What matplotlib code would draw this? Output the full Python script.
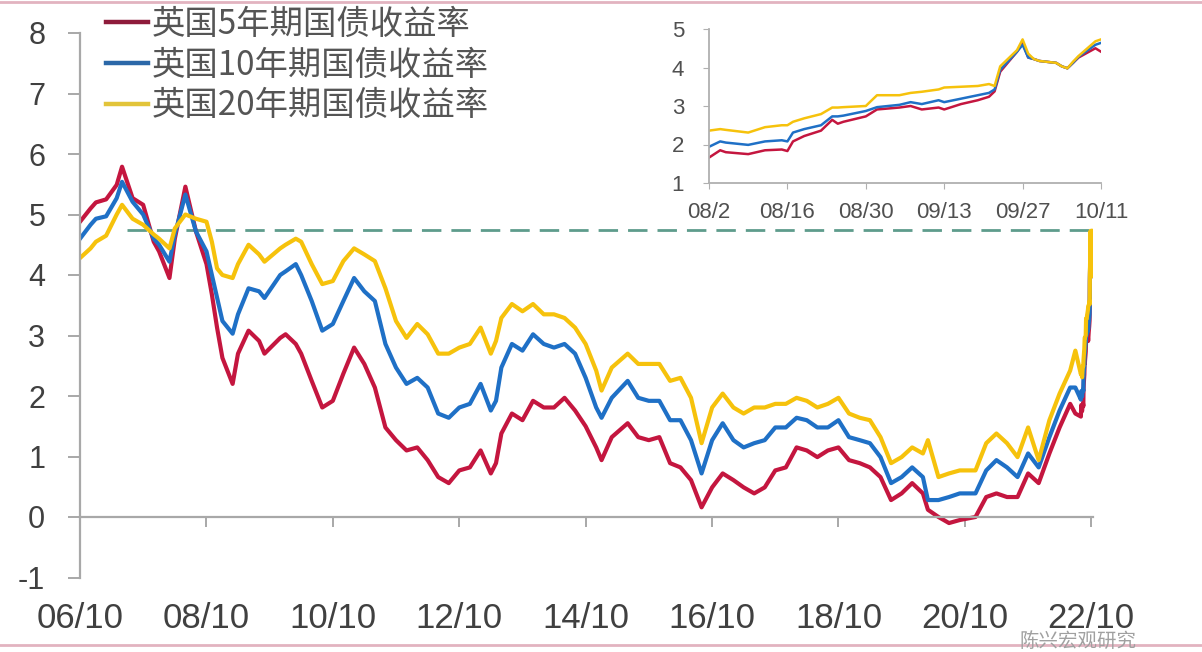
import matplotlib
matplotlib.use("Agg")
import matplotlib.pyplot as plt
import pandas as pd
from matplotlib.lines import Line2D

# readings (start of month), Oct 2006 - Jul 2022
months = [
    "2006-10", "2006-12", "2007-01", "2007-03", "2007-05", "2007-06", "2007-08", "2007-10", "2007-12",
    "2008-01", "2008-03", "2008-04", "2008-06", "2008-08", "2008-10", "2008-11", "2008-12",
    "2009-01", "2009-03", "2009-04", "2009-06", "2009-08", "2009-09", "2009-12",
    "2010-01", "2010-03", "2010-04", "2010-06", "2010-08", "2010-10", "2010-12",
    "2011-02", "2011-04", "2011-06", "2011-08", "2011-10", "2011-12",
    "2012-02", "2012-04", "2012-06", "2012-08", "2012-10", "2012-12",
    "2013-02", "2013-04", "2013-05", "2013-06", "2013-08", "2013-10", "2013-12",
    "2014-02", "2014-04", "2014-06", "2014-08", "2014-10", "2014-12",
    "2015-01", "2015-03", "2015-06", "2015-08", "2015-10", "2015-12",
    "2016-02", "2016-04", "2016-06", "2016-08", "2016-10", "2016-12",
    "2017-02", "2017-04", "2017-06", "2017-08", "2017-10", "2017-12",
    "2018-02", "2018-04", "2018-06", "2018-08", "2018-10", "2018-12",
    "2019-02", "2019-04", "2019-06", "2019-08", "2019-10", "2019-12",
    "2020-02", "2020-03", "2020-05", "2020-07", "2020-09", "2020-12",
    "2021-02", "2021-04", "2021-06", "2021-08", "2021-10", "2021-12",
    "2022-02", "2022-04", "2022-06", "2022-07",
]
uk5 = [
    4.88, 5.10, 5.20, 5.25, 5.49, 5.79, 5.27, 5.16, 4.55,
    4.39, 3.95, 4.60, 5.46, 4.72, 4.18, 3.68, 3.13,
    2.63, 2.20, 2.70, 3.08, 2.91, 2.70, 2.96,
    3.02, 2.86, 2.70, 2.25, 1.81, 1.92, 2.37,
    2.80, 2.53, 2.14, 1.48, 1.27, 1.10,
    1.15, 0.94, 0.66, 0.56, 0.77, 0.82,
    1.10, 0.72, 0.89, 1.38, 1.71, 1.60, 1.92,
    1.81, 1.81, 1.97, 1.76, 1.50, 1.15,
    0.94, 1.32, 1.55, 1.32, 1.27, 1.32,
    0.89, 0.82, 0.61, 0.16, 0.49, 0.72,
    0.61, 0.49, 0.39, 0.49, 0.77, 0.82,
    1.15, 1.10, 0.99, 1.10, 1.15, 0.94,
    0.89, 0.82, 0.66, 0.28, 0.39, 0.56,
    0.39, 0.12, 0.00, -0.10, -0.05, 0.00,
    0.33, 0.39, 0.33, 0.33, 0.72, 0.56,
    1.05, 1.48, 1.87, 1.71,
]
uk10 = [
    4.60, 4.83, 4.93, 4.97, 5.27, 5.54, 5.21, 5.00, 4.60,
    4.50, 4.22, 4.67, 5.33, 4.72, 4.39, 4.00, 3.62,
    3.24, 3.03, 3.35, 3.78, 3.73, 3.62, 4.00,
    4.06, 4.18, 4.00, 3.57, 3.08, 3.19, 3.57,
    3.95, 3.73, 3.57, 2.86, 2.47, 2.20,
    2.30, 2.14, 1.71, 1.64, 1.81, 1.87,
    2.20, 1.76, 1.92, 2.47, 2.86, 2.75, 3.02,
    2.86, 2.80, 2.86, 2.70, 2.30, 1.81,
    1.64, 1.97, 2.25, 1.97, 1.92, 1.92,
    1.60, 1.60, 1.27, 0.72, 1.27, 1.55,
    1.27, 1.15, 1.22, 1.27, 1.48, 1.48,
    1.64, 1.60, 1.48, 1.48, 1.60, 1.32,
    1.27, 1.22, 0.99, 0.56, 0.66, 0.82,
    0.66, 0.28, 0.28, 0.33, 0.39, 0.39,
    0.77, 0.94, 0.82, 0.66, 1.05, 0.82,
    1.32, 1.76, 2.14, 2.14,
]
uk20 = [
    4.28, 4.44, 4.55, 4.65, 5.00, 5.16, 4.93, 4.83, 4.67,
    4.60, 4.44, 4.77, 5.00, 4.93, 4.88, 4.55, 4.11,
    4.00, 3.95, 4.18, 4.50, 4.34, 4.22, 4.44,
    4.50, 4.60, 4.55, 4.18, 3.85, 3.90, 4.23,
    4.44, 4.34, 4.23, 3.78, 3.24, 2.96,
    3.19, 3.02, 2.70, 2.70, 2.80, 2.86,
    3.13, 2.70, 2.91, 3.29, 3.52, 3.40, 3.52,
    3.35, 3.35, 3.29, 3.13, 2.86, 2.42,
    2.09, 2.47, 2.70, 2.53, 2.53, 2.53,
    2.25, 2.30, 1.97, 1.22, 1.81, 2.04,
    1.81, 1.71, 1.81, 1.81, 1.87, 1.87,
    1.97, 1.92, 1.81, 1.87, 1.97, 1.71,
    1.64, 1.60, 1.32, 0.89, 0.99, 1.15,
    1.05, 1.27, 0.66, 0.72, 0.77, 0.77,
    1.22, 1.38, 1.22, 0.99, 1.48, 0.94,
    1.60, 2.04, 2.42, 2.75,
]

# daily readings, Aug - Oct 2022
days = [
    "2022-08-02", "2022-08-04", "2022-08-05", "2022-08-09", "2022-08-12", "2022-08-15",
    "2022-08-16", "2022-08-17", "2022-08-19", "2022-08-22", "2022-08-24", "2022-08-25",
    "2022-08-26", "2022-08-30", "2022-09-01", "2022-09-05", "2022-09-07", "2022-09-09",
    "2022-09-12", "2022-09-13", "2022-09-16", "2022-09-19", "2022-09-21", "2022-09-22",
    "2022-09-23", "2022-09-26", "2022-09-27", "2022-09-28", "2022-09-29", "2022-09-30",
    "2022-10-03", "2022-10-04", "2022-10-05", "2022-10-06", "2022-10-07", "2022-10-10",
    "2022-10-11",
]
d5 = [1.66, 1.85, 1.80, 1.75, 1.85, 1.87, 1.83, 2.08, 2.22, 2.36, 2.64, 2.54,
      2.59, 2.73, 2.91, 2.96, 3.00, 2.91, 2.96, 2.91, 3.05, 3.15, 3.24, 3.38,
      3.89, 4.41, 4.64, 4.26, 4.22, 4.17, 4.12, 4.03, 3.98, 4.12, 4.26, 4.50, 4.41]
d10 = [1.94, 2.08, 2.05, 1.99, 2.08, 2.11, 2.08, 2.31, 2.40, 2.50, 2.73, 2.73,
       2.75, 2.87, 2.97, 3.03, 3.10, 3.05, 3.15, 3.10, 3.19, 3.28, 3.34, 3.43,
       3.94, 4.41, 4.59, 4.26, 4.22, 4.17, 4.12, 4.03, 3.98, 4.12, 4.28, 4.59, 4.64]
d20 = [2.36, 2.40, 2.38, 2.31, 2.45, 2.50, 2.50, 2.59, 2.68, 2.79, 2.96, 2.96,
       2.97, 3.00, 3.28, 3.28, 3.34, 3.37, 3.43, 3.48, 3.50, 3.52, 3.57, 3.52,
       4.03, 4.45, 4.73, 4.36, 4.22, 4.17, 4.12, 4.03, 3.98, 4.15, 4.30, 4.68, 4.73]

names = ["英国5年期国债收益率", "英国10年期国债收益率", "英国20年期国债收益率"]
colors = ["#c4163f", "#1f70c6", "#f6c20c"]
handle_colors = ["#8e1b3b", "#2b68a8", "#e2c43a"]

ref_level = 4.75
ref_start, ref_end = "2007-07-01", "2022-09-27"

x_ticks = pd.date_range("2006-10-01", "2022-10-01", freq="24MS")
inset_ticks = ["2022-08-02", "2022-08-16", "2022-08-30", "2022-09-13", "2022-09-27", "2022-10-11"]
inset_labels = ["08/2", "08/16", "08/30", "09/13", "09/27", "10/11"]

plt.rcParams["font.family"] = ["Liberation Sans", "Noto Sans CJK SC", "DejaVu Sans"]
plt.rcParams["axes.unicode_minus"] = False

W, H = 1202, 652
fig = plt.figure(figsize=(W / 100, H / 100), dpi=100)
fig.patch.set_facecolor("white")

ax = fig.add_axes([80 / W, 1 - 577.5 / H, 1013 / W, 544.5 / H])
t_main = pd.to_datetime(months, format="%Y-%m")
t_in = pd.to_datetime(days, format="%Y-%m-%d")
t_all = t_main.append(t_in)
series = [uk5 + d5, uk10 + d10, uk20 + d20]
for vals, c, n in zip(series, colors, names):
    ax.plot(t_all, vals, color=c, lw=3.0, label=n, solid_joinstyle="round")

ax.plot(pd.to_datetime([ref_start, ref_end]), [ref_level, ref_level],
        color="#5e9c8c", lw=2, dashes=(7, 3.6), zorder=1)

ax.set_xlim(pd.Timestamp("2006-10-01"), pd.Timestamp("2022-10-11"))
ax.set_ylim(-1, 8)
ax.set_yticks(range(-1, 9))
ax.set_xticks(x_ticks)
ax.set_xticklabels([d.strftime("%y/%m") for d in x_ticks])

ax.spines["bottom"].set_position(("data", 0))
ax.spines[["top", "right"]].set_visible(False)
for s in ("left", "bottom"):
    ax.spines[s].set_color("#a8a8a8")
    ax.spines[s].set_linewidth(1.6)
ax.tick_params(axis="x", direction="out", length=7, width=1.4, color="#a8a8a8",
               pad=54, labelsize=25, labelcolor="#404040")
ax.tick_params(axis="y", direction="out", length=9, width=1.4, color="#a8a8a8",
               pad=16, labelsize=22, labelcolor="#404040")

handles = [Line2D([], [], color=c, lw=3.2) for c in handle_colors]
leg = fig.legend(handles, names, loc="upper left", bbox_to_anchor=(106 / W, 1 - 7 / H),
                 frameon=False, borderpad=0, borderaxespad=0, handlelength=1.25,
                 handletextpad=0.12, labelspacing=0.17,
                 prop={"family": ["Noto Sans CJK SC"], "size": 24})
for txt in leg.get_texts():
    txt.set_color("#555555")

# inset: last ten weeks
axi = fig.add_axes([709 / W, 1 - 183 / H, 392 / W, 154 / H])
for vals, c in zip([d5, d10, d20], colors):
    axi.plot(t_in, vals, color=c, lw=1.8)
axi.set_xlim(t_in[0], t_in[-1])
axi.set_ylim(1, 5)
axi.set_yticks(range(1, 6))
axi.set_xticks(pd.to_datetime(inset_ticks))
axi.set_xticklabels(inset_labels)
axi.spines[["top", "right"]].set_visible(False)
for s in ("left", "bottom"):
    axi.spines[s].set_color("#b0b0b0")
    axi.spines[s].set_linewidth(1.3)
axi.tick_params(axis="x", direction="out", length=4, color="#b0b0b0",
                pad=10, labelsize=16, labelcolor="#505050")
axi.tick_params(axis="y", direction="out", length=4, color="#b0b0b0",
                pad=14, labelsize=16, labelcolor="#505050")

# thin page borders and source mark
fig.add_artist(Line2D([0, 1], [1 - 2 / H, 1 - 2 / H], transform=fig.transFigure,
                      color="#e2b3c0", lw=2))
fig.add_artist(Line2D([0, 1], [7 / H, 7 / H], transform=fig.transFigure,
                      color="#e2b3c0", lw=2))
fig.text(1078 / W, 0, "陈兴宏观研究", ha="center", va="bottom", fontsize=14,
         color="#a0a0a0", family=["Noto Sans CJK SC"])

fig.savefig("out.png", dpi=100)
